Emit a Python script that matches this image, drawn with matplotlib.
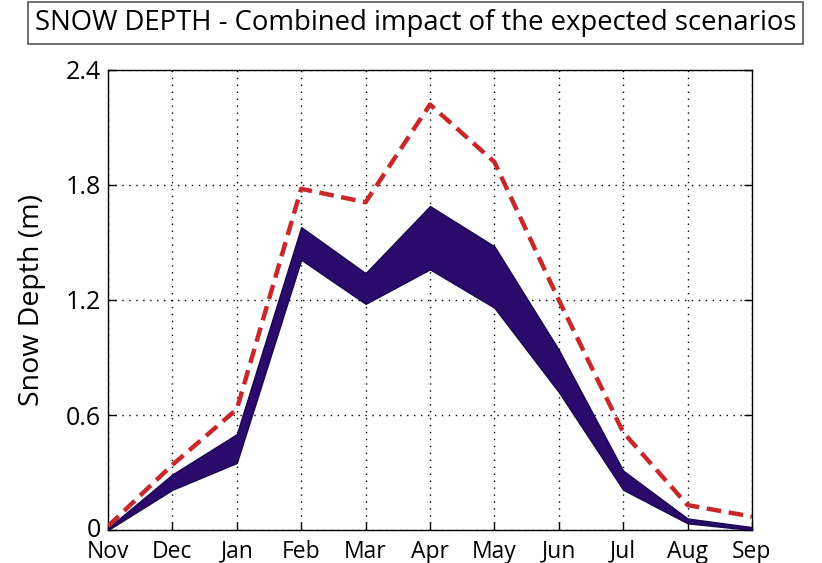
import matplotlib
matplotlib.use("Agg")
import matplotlib.pyplot as plt
import matplotlib.transforms as mtransforms
import numpy as np

plt.rcParams['font.family'] = ['Open Sans', 'DejaVu Sans']

months = ["Nov", "Dec", "Jan", "Feb", "Mar", "Apr", "May", "Jun", "Jul", "Aug", "Sep"]
reference = [0.02, 0.34, 0.63, 1.78, 1.71, 2.22, 1.92, 1.20, 0.51, 0.13, 0.07]
band_upper = [0.01, 0.29, 0.50, 1.58, 1.34, 1.69, 1.48, 0.94, 0.31, 0.06, 0.015]
band_lower = [0.00, 0.21, 0.35, 1.41, 1.18, 1.36, 1.16, 0.72, 0.21, 0.035, 0.0]
yticks = [0, 0.6, 1.2, 1.8, 2.4]
ytick_labels = ["0", "0.6", "1.2", "1.8", "2.4"]
title = "SNOW DEPTH - Combined impact of the expected scenarios"

x = np.arange(len(months))

fig = plt.figure(figsize=(8.22, 5.63), dpi=100)
ax = fig.add_axes([0.1314, 0.0586, 0.7834, 0.8171])

ax.fill_between(x, band_lower, band_upper, color='#2a0a6b', linewidth=1.0,
                edgecolor='#1a0550', zorder=3)
ax.plot(x, reference, color='#c8282a', linestyle=(0, (3.3, 1.7)), linewidth=3.2, zorder=4)

ax.set_xlim(0, len(months) - 1)
ax.set_ylim(0, 2.4)
ax.set_xticks(x)
ax.set_xticklabels(months, fontsize=16.5)
ax.set_yticks(yticks)
ax.set_yticklabels(ytick_labels, fontsize=18)
ax.tick_params(direction='in', length=6, width=1, right=True, pad=5)
ax.tick_params(axis='x', pad=7)
ax.grid(True, color='black', linestyle=(0, (1, 4)), linewidth=1.0)
for s in ax.spines.values():
    s.set_linewidth(1.0)
ax.set_ylabel("Snow Depth (m)", fontsize=20.5)
ax.yaxis.set_label_coords(-0.097, 0.5)

# nudge the "0" label up a little so it does not collide with "Nov"
zero_lbl = ax.get_yticklabels()[0]
zero_lbl.set_transform(zero_lbl.get_transform() +
                       mtransforms.ScaledTranslation(0, 3 / 100, fig.dpi_scale_trans))

fig.text(0.5055, 0.9585, title, ha='center', va='center', fontsize=19.8,
         bbox=dict(boxstyle='square,pad=0.25', facecolor='white', edgecolor='#555555', linewidth=1.2))

fig.savefig("out.png", dpi=100)
